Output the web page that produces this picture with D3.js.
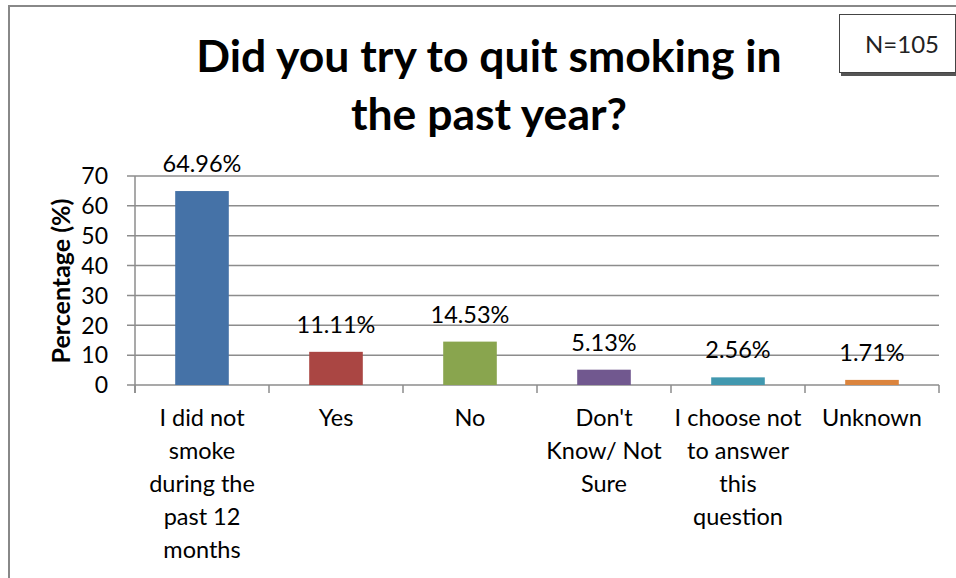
<!DOCTYPE html>
<html><head><meta charset="utf-8">
<script src="https://cdn.jsdelivr.net/npm/d3@7"></script>
<style>body{margin:0;background:#fff;}svg{display:block;font-family:Lato,"Open Sans",sans-serif;}</style>
</head><body>
<script>
const categories = [["I did not","smoke","during the","past 12","months"],["Yes"],["No"],["Don't","Know/ Not","Sure"],["I choose not","to answer","this","question"],["Unknown"]];
const values = [64.96, 11.11, 14.53, 5.13, 2.56, 1.71];
const valueLabels = ["64.96%","11.11%","14.53%","5.13%","2.56%","1.71%"];
const colors = ["#4572A7","#AA4643","#89A54E","#71588F","#4198AF","#DB843D"];
const yTicks = [0,10,20,30,40,50,60,70];
const titleLines = ["Did you try to quit smoking in","the past year?"];

const W=956,H=578;
const svg=d3.select("body").append("svg").attr("width",W).attr("height",H);
// outer chart border
svg.append("path").attr("d","M9,578 V6 H956").attr("fill","none").attr("stroke","#888").attr("stroke-width",2);

const pL=135,pR=939,pT=176,pB=385;
const x=d3.scaleBand().domain(d3.range(categories.length)).range([pL,pR]).paddingInner(0.6).paddingOuter(0.3);
const xb=d3.scaleBand().domain(d3.range(categories.length)).range([pL,pR]);
const y=d3.scaleLinear().domain([0,70]).range([pB,pT]);

// gridlines
svg.append("g").selectAll("line").data(yTicks).join("line")
 .attr("x1",pL-8).attr("x2",pR).attr("y1",d=>y(d)).attr("y2",d=>y(d))
 .attr("stroke","#8c8c8c").attr("stroke-width",1.5);
// y axis line
svg.append("line").attr("x1",pL).attr("x2",pL).attr("y1",pT).attr("y2",pB+8).attr("stroke","#8c8c8c").attr("stroke-width",1.5);
// x ticks
const bounds=d3.range(categories.length+1).map(i=>i<categories.length?xb(i):pR);
svg.append("g").selectAll("line").data(bounds).join("line")
 .attr("x1",d=>d).attr("x2",d=>d).attr("y1",pB).attr("y2",pB+8)
 .attr("stroke","#8c8c8c").attr("stroke-width",1.5);
// y tick labels
svg.append("g").selectAll("text").data(yTicks).join("text")
 .attr("x",pL-27).attr("y",d=>y(d)).attr("dy","0.36em").attr("text-anchor","end")
 .attr("font-size",23).attr("fill","#000").text(d=>d);
// bars
svg.append("g").selectAll("rect").data(values).join("rect")
 .attr("x",(d,i)=>x(i)).attr("width",x.bandwidth()).attr("y",d=>y(d)).attr("height",d=>y(0)-y(d))
 .attr("fill",(d,i)=>colors[i]);
// value labels
svg.append("g").selectAll("text").data(values).join("text")
 .attr("x",(d,i)=>x(i)+x.bandwidth()/2).attr("y",d=>y(d)-19).attr("text-anchor","middle")
 .attr("font-size",23.5).attr("fill","#000").text((d,i)=>valueLabels[i]);
// category labels
const cg=svg.append("g");
categories.forEach((lines,i)=>{
  const t=cg.append("text").attr("text-anchor","middle").attr("font-size",23.5).attr("fill","#000");
  lines.forEach((l,j)=>t.append("tspan").attr("x",xb(i)+xb.bandwidth()/2).attr("y",426+j*33).text(l));
});
// y axis title
svg.append("text").attr("transform","translate(70,281) rotate(-90)").attr("text-anchor","middle")
 .attr("font-size",25).attr("font-weight","bold").text("Percentage (%)");
// title
titleLines.forEach((l,i)=>{
  svg.append("text").attr("x",489).attr("y",72+i*58).attr("text-anchor","middle")
   .attr("font-size",44.5).attr("font-weight","bold").attr("fill","#000").text(l);
});
// N box
svg.append("rect").attr("x",841).attr("y",17).attr("width",116).attr("height",59).attr("fill","#555");
svg.append("rect").attr("x",839.5).attr("y",14.5).attr("width",116).attr("height",58).attr("fill","#fff").attr("stroke","#444").attr("stroke-width",1);
svg.append("text").attr("x",902).attr("y",44).attr("dy","0.36em").attr("text-anchor","middle").attr("font-size",24).attr("fill","#222").text("N=105");
</script>
</body></html>
